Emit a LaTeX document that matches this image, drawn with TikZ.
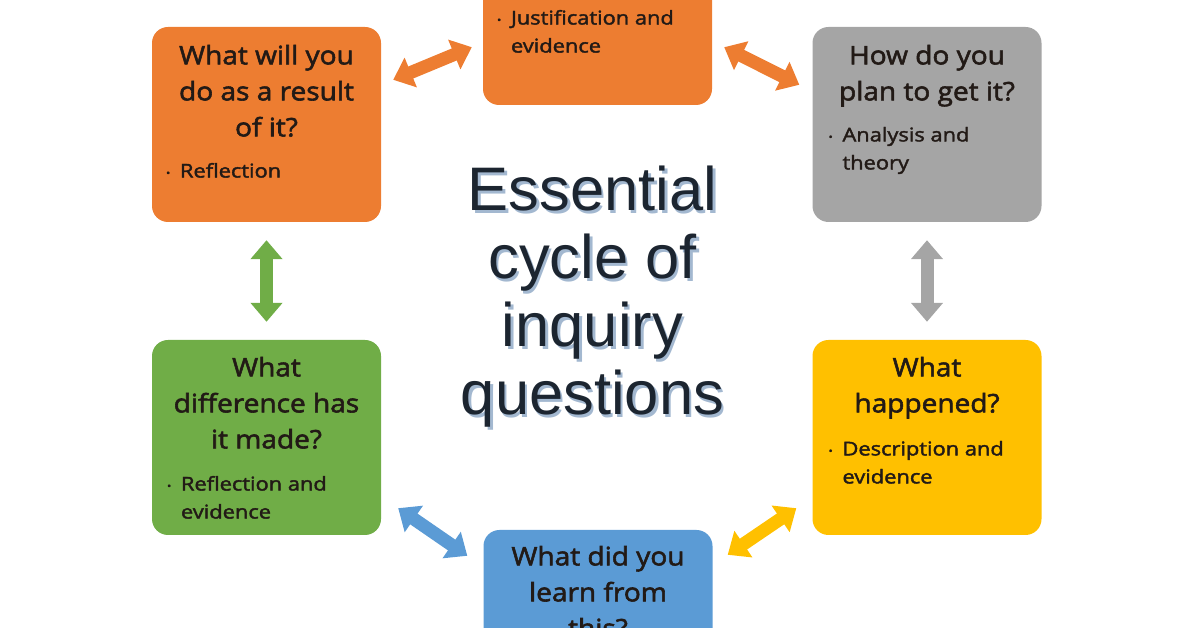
\documentclass[tikz,border=0pt]{standalone}
\usepackage{fontspec}
\setmainfont{Open Sans}
\newfontfamily\qfont{Open Sans}[FakeStretch=1.1, FakeBold=2.2]
\newfontfamily\bfont{Open Sans}[FakeStretch=1.15, FakeBold=2.0]
\newfontfamily\titlefont{Liberation Sans}
\usetikzlibrary{calc,arrows.meta}

\definecolor{boxorange}{HTML}{ED7D31}
\definecolor{boxgray}{HTML}{A5A5A5}
\definecolor{boxyellow}{HTML}{FFC000}
\definecolor{boxblue}{HTML}{5B9BD5}
\definecolor{boxgreen}{HTML}{70AD47}
\definecolor{textdark}{HTML}{221A16}
\definecolor{titledark}{HTML}{1C2530}
\definecolor{titleshade}{HTML}{A3B8D0}

\newcommand{\bul}{\makebox[14pt][l]{\raisebox{1pt}{\fontsize{10}{10}\selectfont\textbullet}}}
\newcommand{\bulgap}{\hspace*{14pt}}

\begin{document}
\begin{tikzpicture}[x=1pt,y=1pt,
    qbox/.style={rounded corners=16pt, minimum width=229pt, minimum height=195pt, inner sep=0pt},
    qtext/.style={align=center, font=\qfont\fontsize{25.5}{36}\selectfont, text=textdark, inner sep=0pt, anchor=north},
    btext/.style={align=left, font=\bfont\fontsize{19}{28}\selectfont, text=textdark, inner sep=0pt, anchor=north west},
    link/.style={line width=13pt, {Triangle[length=19pt,width=31pt]}-{Triangle[length=19pt,width=31pt]}}]

    \useasboundingbox (0,0) rectangle (1196,628);
    \clip (0,0) rectangle (1196,628);

    % draw boxes
    \node[qbox, fill=boxorange] (tc) at (597.5,620.5) {};
    \node[qbox, fill=boxorange] (tl) at (266.5,503.5) {};
    \node[qbox, fill=boxgray]   (tr) at (927,503.5) {};
    \node[qbox, fill=boxyellow] (rr) at (927,190.5) {};
    \node[qbox, fill=boxblue]   (bc) at (598,0.5) {};
    \node[qbox, fill=boxgreen]  (ll) at (266.5,190.5) {};

    % draw questions
    \node[qtext] (tlq) at ([yshift=-18pt]tl.north) {What will you\\do as a result\\of it?};
    \node[qtext] (trq) at ([yshift=-18pt]tr.north) {How do you\\plan to get it?};
    \node[qtext] (rrq) at ([yshift=-17pt]rr.north) {What\\happened?};
    \node[qtext] (bcq) at ([yshift=-16pt]bc.north) {What did you\\learn from\\this?};
    \node[qtext] (llq) at ([yshift=-17pt]ll.north) {What\\difference has\\it made?};

    % draw bullets
    \node[btext] (tcb) at ([shift={(14pt,-100pt)}]tc.north west) {\bul Justification and\\\bulgap evidence};
    \node[btext] (tlb) at ([shift={(14pt,-136pt)}]tl.north west) {\bul Reflection};
    \node[btext] (trb) at ([shift={(16pt,-100pt)}]tr.north west) {\bul Analysis and\\\bulgap theory};
    \node[btext] (rrb) at ([shift={(16pt,-101pt)}]rr.north west) {\bul Description and\\\bulgap evidence};
    \node[btext] (llb) at ([shift={(15pt,-136pt)}]ll.north west) {\bul Reflection and\\\bulgap evidence};

    % draw arrows
    \draw[link, boxorange] ([shift={(12pt,-53pt)}]tl.north east) -- ([shift={(-11pt,58pt)}]tc.south west);
    \draw[link, boxorange] ([shift={(12pt,58pt)}]tc.south east) -- ([shift={(-13pt,-58pt)}]tr.north west);
    \draw[link, boxgray]   ([yshift=-18pt]tr.south) -- ([yshift=18pt]rr.north);
    \draw[link, boxyellow] ([shift={(-16pt,27pt)}]rr.south west) -- ([shift={(15pt,-25pt)}]bc.north east);
    \draw[link, boxblue]   ([shift={(17pt,27pt)}]ll.south east) -- ([shift={(-16pt,-26pt)}]bc.north west);
    \draw[link, boxgreen]  ([yshift=-18pt]tl.south) -- ([yshift=18pt]ll.north);

    % draw title
    \node[align=center, font=\titlefont\fontsize{61.5}{68}\selectfont, text=titleshade] (titleshadow) at (595,328) {Essential\\cycle of\\inquiry\\questions};
    \node[align=center, font=\titlefont\fontsize{61.5}{68}\selectfont, text=titledark] (title) at (592.5,331) {Essential\\cycle of\\inquiry\\questions};

\end{tikzpicture}
\end{document}
